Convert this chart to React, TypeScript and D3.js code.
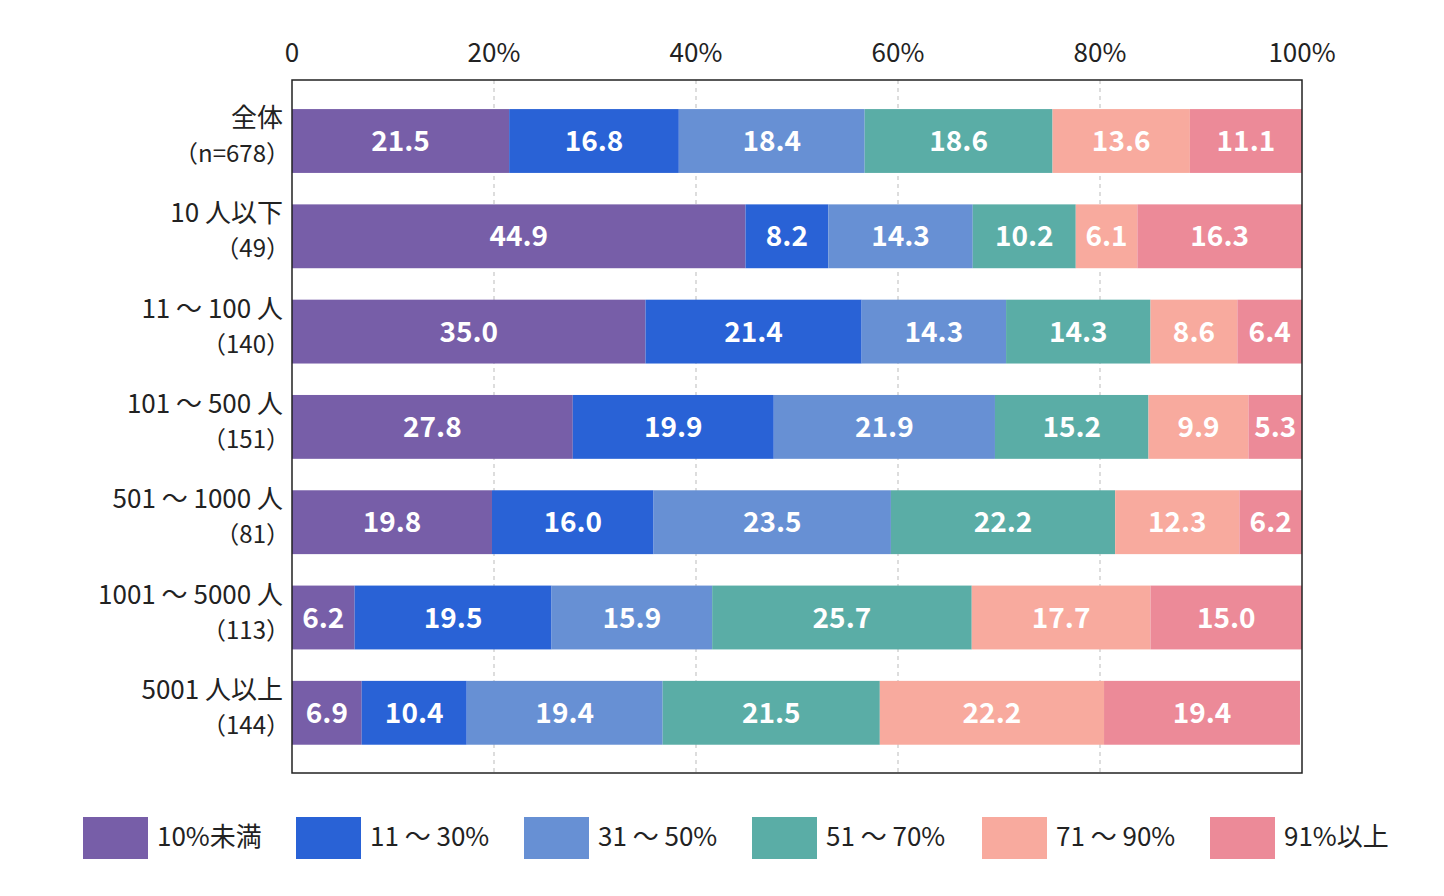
import React from "react";
import * as d3 from "d3";

const rows = ["全体", "10 人以下", "11 ～ 100 人", "101 ～ 500 人", "501 ～ 1000 人", "1001 ～ 5000 人", "5001 人以上"];
const counts = ["（n=678）", "（49）", "（140）", "（151）", "（81）", "（113）", "（144）"];
const seriesNames = ["10%未満", "11 ～ 30%", "31 ～ 50%", "51 ～ 70%", "71 ～ 90%", "91%以上"];
const values = [
  [21.5, 16.8, 18.4, 18.6, 13.6, 11.1],
  [44.9, 8.2, 14.3, 10.2, 6.1, 16.3],
  [35.0, 21.4, 14.3, 14.3, 8.6, 6.4],
  [27.8, 19.9, 21.9, 15.2, 9.9, 5.3],
  [19.8, 16.0, 23.5, 22.2, 12.3, 6.2],
  [6.2, 19.5, 15.9, 25.7, 17.7, 15.0],
  [6.9, 10.4, 19.4, 21.5, 22.2, 19.4],
];
const ticks = [0, 20, 40, 60, 80, 100];
const colors = ["#775ea8", "#2962d6", "#6790d4", "#5aada6", "#f8aa9e", "#ec8a98"];

const font = "'Noto Sans CJK JP', 'Noto Sans', sans-serif";

export default function App() {
  const W = 1444, H = 896;
  const left = 292, right = 1302, top = 80, bottom = 773;
  const x = d3.scaleLinear().domain([0, 100]).range([left, right]);
  const y = d3.scaleBand<number>().domain(d3.range(rows.length)).range([93.35, 760.45]).paddingInner(0.33).paddingOuter(0.165);
  const legendX = [83, 296, 524, 752, 982, 1210];

  return (
    <svg width={W} height={H} style={{ position: "absolute", left: 0, top: 0, fontFamily: font }}>
      <rect width={W} height={H} fill="#fff" />
      {ticks.map((t) => (
        <g key={t}>
          {t > 0 && t < 100 && (
            <line x1={x(t)} x2={x(t)} y1={top} y2={bottom} stroke="#bbb" strokeDasharray="4,4" />
          )}
          <text x={x(t)} y={62} textAnchor="middle" fontSize={26} fill="#222">
            {t === 0 ? "0" : `${t}%`}
          </text>
        </g>
      ))}
      {values.map((row, i) => {
        let acc = 0;
        const y0 = y(i)!;
        return (
          <g key={i}>
            {row.map((v, j) => {
              const x0 = x(acc);
              acc += v;
              const x1 = x(acc);
              return (
                <g key={j}>
                  <rect x={x0} y={y0} width={x1 - x0} height={y.bandwidth()} fill={colors[j]} />
                  <text x={(x0 + x1) / 2} y={y0 + y.bandwidth() / 2 + 10} textAnchor="middle" fontSize={28} fontWeight="bold" fill="#fff">
                    {v.toFixed(1)}
                  </text>
                </g>
              );
            })}
            <text x={283} y={y0 + 18} textAnchor="end" fontSize={26} fill="#222">{rows[i]}</text>
            <text x={290} y={y0 + 53} textAnchor="end" fontSize={24} fill="#222">{counts[i]}</text>
          </g>
        );
      })}
      <rect x={left} y={top} width={right - left} height={bottom - top} fill="none" stroke="#222" strokeWidth={1.5} />
      {seriesNames.map((s, j) => (
        <g key={s}>
          <rect x={legendX[j]} y={817} width={65} height={42} fill={colors[j]} />
          <text x={legendX[j] + 74} y={846} fontSize={26} fill="#222">{s}</text>
        </g>
      ))}
    </svg>
  );
}
